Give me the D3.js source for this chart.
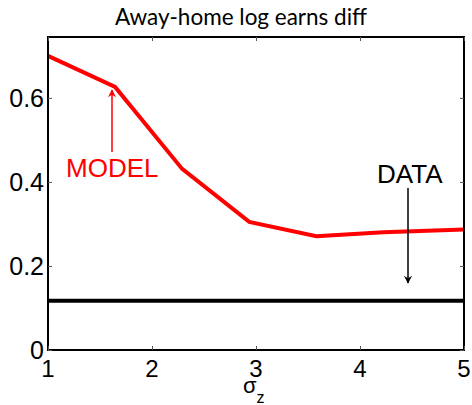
<!DOCTYPE html>
<html>
<head>
<meta charset="utf-8">
<script src="https://cdn.jsdelivr.net/npm/d3@7"></script>
<style>
  body { margin: 0; background: #fff; }
  svg { display: block; }
</style>
</head>
<body>
<svg id="canvas"></svg>
<script>
// sigma_z grid and model values (red), data level (black)
let sigmaZ = [1, 1.645, 2.29, 2.935, 3.58, 4.225, 5]
let modelDiff = [0.70, 0.626, 0.431, 0.305, 0.271, 0.280, 0.287]
let dataDiff = 0.117

let xTicks = [1, 2, 3, 4, 5]
let yTicks = [0, 0.2, 0.4, 0.6]
let yTickLabels = ['0', '0.2', '0.4', '0.6']

let width = 472
let height = 405
let margin = {left: 48, right: 8, top: 37, bottom: 55}

let canvas = d3.select('#canvas')
    .attr('width', width)
    .attr('height', height)

let xScale = d3.scaleLinear()
    .domain([1, 5])
    .range([margin.left, width - margin.right])

let yScale = d3.scaleLinear()
    .domain([0, 0.745])
    .range([height - margin.bottom, margin.top])

let labelFont = 'Liberation Sans, Arial, sans-serif'

// title
canvas.append('text')
    .attr('x', 241)
    .attr('y', 25)
    .attr('text-anchor', 'middle')
    .style('font-family', 'Lato, sans-serif')
    .style('font-size', '22.5px')
    .text('Away-home log earns diff')

// data line
canvas.append('line')
    .attr('x1', xScale(1))
    .attr('x2', xScale(5))
    .attr('y1', yScale(dataDiff))
    .attr('y2', yScale(dataDiff))
    .attr('stroke', '#000')
    .attr('stroke-width', 4)

// model line
let line = d3.line()
    .x((d, i) => xScale(sigmaZ[i]))
    .y(d => yScale(d))

canvas.append('path')
    .datum(modelDiff)
    .attr('d', line)
    .attr('fill', 'none')
    .attr('stroke', '#ff0000')
    .attr('stroke-width', 4)
    .attr('stroke-linejoin', 'miter')

// box
canvas.append('rect')
    .attr('x', xScale(1))
    .attr('y', yScale(0.745))
    .attr('width', xScale(5) - xScale(1))
    .attr('height', yScale(0) - yScale(0.745))
    .attr('fill', 'none')
    .attr('stroke', '#000')
    .attr('stroke-width', 2)

// inward ticks, matlab style
let tickLen = 4
let bottomAxis = d3.axisBottom(xScale).tickValues(xTicks).tickSizeInner(-tickLen).tickSizeOuter(0).tickFormat('')
let topAxis = d3.axisTop(xScale).tickValues(xTicks).tickSizeInner(-tickLen).tickSizeOuter(0).tickFormat('')
let leftAxis = d3.axisLeft(yScale).tickValues(yTicks).tickSizeInner(-tickLen).tickSizeOuter(0).tickFormat('')
let rightAxis = d3.axisRight(yScale).tickValues(yTicks).tickSizeInner(-tickLen).tickSizeOuter(0).tickFormat('')

let axes = [
    [bottomAxis, 'translate(0,' + yScale(0) + ')'],
    [topAxis, 'translate(0,' + yScale(0.745) + ')'],
    [leftAxis, 'translate(' + xScale(1) + ',0)'],
    [rightAxis, 'translate(' + xScale(5) + ',0)']
]
axes.forEach(a => {
    let g = canvas.append('g').attr('transform', a[1]).call(a[0])
    g.select('.domain').remove()
    g.selectAll('text').remove()
    g.selectAll('line').attr('stroke', '#555').attr('stroke-width', 1)
})

// tick labels
canvas.selectAll('.xlabel')
    .data(xTicks)
    .enter()
    .append('text')
    .attr('class', 'xlabel')
    .attr('x', d => xScale(d))
    .attr('y', 377)
    .attr('text-anchor', 'middle')
    .style('font-family', labelFont)
    .style('font-size', '24px')
    .text(d => d)

canvas.selectAll('.ylabel')
    .data(yTicks)
    .enter()
    .append('text')
    .attr('class', 'ylabel')
    .attr('x', 44)
    .attr('y', d => yScale(d) + 9)
    .attr('text-anchor', 'end')
    .style('font-family', labelFont)
    .style('font-size', '25px')
    .text((d, i) => yTickLabels[i])

// x axis label sigma_z
let xl = canvas.append('text')
    .attr('x', 243)
    .attr('y', 393)
    .style('font-family', labelFont)
    .style('font-size', '22px')
xl.append('tspan').text('σ')
xl.append('tspan').attr('dy', 10).style('font-size', '16px').text('z')

// arrows
let defs = canvas.append('defs')
let addHead = (id, color) => {
    defs.append('marker')
        .attr('id', id)
        .attr('viewBox', '0 0 10 10')
        .attr('refX', 9)
        .attr('refY', 5)
        .attr('markerWidth', 8)
        .attr('markerHeight', 8)
        .attr('markerUnits', 'userSpaceOnUse')
        .attr('orient', 'auto')
        .append('path')
        .attr('d', 'M0,0 L10,5 L0,10 L3,5 Z')
        .attr('fill', color)
}
addHead('headRed', '#ff0000')
addHead('headBlack', '#000')

canvas.append('line')
    .attr('x1', 112).attr('y1', 152)
    .attr('x2', 112).attr('y2', 90)
    .attr('stroke', '#ff0000')
    .attr('stroke-width', 1.5)
    .attr('marker-end', 'url(#headRed)')

canvas.append('line')
    .attr('x1', 408).attr('y1', 188)
    .attr('x2', 408).attr('y2', 283)
    .attr('stroke', '#000')
    .attr('stroke-width', 1.5)
    .attr('marker-end', 'url(#headBlack)')

canvas.append('text')
    .attr('x', 66)
    .attr('y', 177)
    .attr('fill', '#ff0000')
    .style('font-family', labelFont)
    .style('font-size', '26px')
    .text('MODEL')

canvas.append('text')
    .attr('x', 377)
    .attr('y', 183)
    .attr('fill', '#000')
    .style('font-family', labelFont)
    .style('font-size', '26px')
    .text('DATA')
</script>
</body>
</html>
